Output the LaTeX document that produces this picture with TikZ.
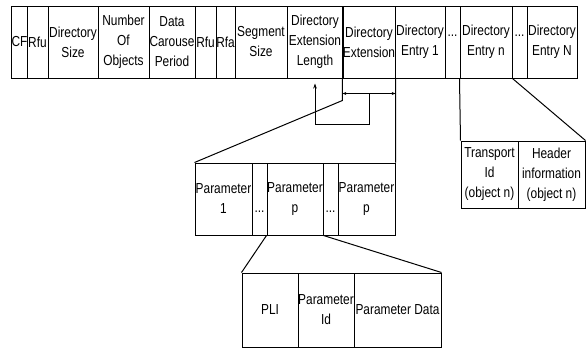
\documentclass[tikz,border=0pt]{standalone}
\usepackage{fontspec}
\setmainfont{Liberation Sans}[FakeStretch=0.82]
\usetikzlibrary{arrows.meta}
\newcommand{\mycell}[6]{%
  \node[cellbox, minimum width={(#3-#2)*1pt}, minimum height={(#5-#4)*1pt}] (#1) at ({(#2+#3)/2},{(#4+#5)/2}) {#6};}
\begin{document}
\begin{tikzpicture}[x=1pt,y=-1pt,
  cellbox/.style={draw, line width=1pt, inner sep=0pt, align=center, font=\fontsize{14.5}{20}\selectfont},
  dotlabel/.style={inner sep=0pt, font=\fontsize{14.5}{20}\selectfont},
  link/.style={line width=1pt},
  ]
\useasboundingbox (0,0) rectangle (587,349);
% top row
\mycell{cf}{12}{27}{6}{78}{CF}
\mycell{rfua}{27}{48}{6}{78}{Rfu}
\mycell{dsize}{48}{98}{6}{78}{Directory\\Size}
\mycell{nobj}{98}{149}{6}{78}{Number\\Of\\Objects}
\mycell{dcp}{149}{195}{6}{78}{Data\\Carouse\\Period}
\mycell{rfub}{195}{216}{6}{78}{Rfu}
\mycell{rfa}{216}{235}{6}{78}{Rfa}
\mycell{ssize}{235}{287}{6}{78}{Segment\\Size}
\mycell{del}{287}{343}{6}{78}{Directory\\Extension\\Length}
\mycell{dext}{343}{395}{6}{78}{Directory\\Extension}
\mycell{deone}{395}{445}{6}{78}{Directory\\Entry 1}
\mycell{dotsa}{445}{460}{6}{78}{}
\mycell{den}{460}{512}{6}{78}{Directory\\Entry n}
\mycell{dotsb}{512}{527}{6}{78}{}
\mycell{deN}{527}{577}{6}{78}{Directory\\Entry N}
\node[dotlabel] at ([yshift=6pt]dotsa.center) {...};
\node[dotlabel] at ([yshift=6pt]dotsb.center) {...};
% parameter row
\mycell{pone}{195}{252}{163}{235}{Parameter\\1}
\mycell{pdotsa}{252}{267}{163}{235}{}
\mycell{pp}{267}{323}{163}{235}{Parameter\\p}
\mycell{pdotsb}{323}{338}{163}{235}{}
\mycell{ppb}{338}{395}{163}{235}{Parameter\\p}
\node[dotlabel] at ([yshift=-13pt]pdotsa.center) {...};
\node[dotlabel] at ([yshift=-13pt]pdotsb.center) {...};
% bottom row
\mycell{pli}{242}{298}{273}{347}{PLI}
\mycell{pid}{298}{354}{273}{347}{Parameter\\Id}
\mycell{pdata}{354}{441}{273}{347}{Parameter Data}
% transport box
\mycell{tid}{461}{518}{141}{208}{Transport\\Id\\(object n)}
\mycell{hdr}{518}{585}{141}{208}{Header\\information\\(object n)}
% connectors
\draw[link] (dext.south west) -- ++(0,22) -- (pone.north west);
\draw[link] (dext.south east) -- (ppb.north east);
\coordinate (al) at ([yshift=-15pt]dext.south west);
\coordinate (ar) at ([yshift=-15pt]dext.south east);
\coordinate (am) at ([yshift=-15pt]dext.south);
\coordinate (at) at ([yshift=-5pt]del.south);
\draw[link,{Stealth[length=4pt,width=3pt]}-{Stealth[length=4pt,width=3pt]}] (al) -- (ar);
\draw[link,-{Stealth[length=5pt,width=3.5pt]}] (am) -- ++(0,31) -| (at);
\draw[link] (pp.south west) -- (pli.north west);
\draw[link] (pp.south east) -- (pdata.north east);
\draw[link] (den.south west) -- (tid.north west);
\draw[link] (den.south east) -- (hdr.north east);
\end{tikzpicture}
\end{document}
